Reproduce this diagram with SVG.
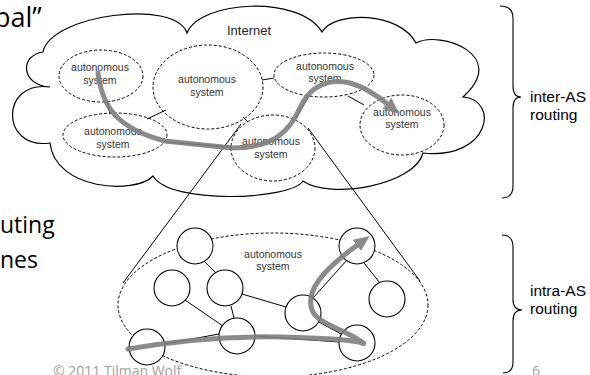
<svg xmlns="http://www.w3.org/2000/svg" width="590" height="375" viewBox="0 0 590 375">
<style>
.as{fill:none;stroke:#000;stroke-width:1;stroke-dasharray:3 2}
.lbl{font-family:"Liberation Sans",Arial,sans-serif;font-size:10.5px;fill:#333;text-anchor:middle}
.rt{fill:#fff;stroke:#000;stroke-width:1.1}
.ln{stroke:#000;stroke-width:1;fill:none}
.route{fill:none;stroke:#7f7f7f;stroke-width:5;stroke-linecap:round;opacity:0.9}
.big{font-family:"Open Sans","Noto Sans",sans-serif;font-size:23px;fill:#000}
.side{font-family:"Liberation Sans",Arial,sans-serif;font-size:15.5px;fill:#000}
.foot{font-family:"Open Sans","Noto Sans",sans-serif;font-size:14px;fill:#a0a0a0}
.brace{fill:none;stroke:#000;stroke-width:1.1}
</style>
<defs>
<marker id="ah" markerUnits="userSpaceOnUse" markerWidth="16" markerHeight="14" refX="4" refY="7" orient="auto">
<path d="M0,0 L16,7 L0,14 Z" fill="#7f7f7f"/>
</marker>
</defs>

<text class="big" x="-6" y="27" style="font-size:27px">bal”</text>
<text class="big" x="0" y="233">uting</text>
<text class="big" x="0" y="268">nes</text>

<g id="internet">
<path d="M43,52 C50,15 175,-2 187,33 C200,0 300,-5 322,32 C335,10 400,12 416,43 C440,30 510,55 463,97 C500,100 490,160 423,153 C415,185 330,200 303,181 C290,200 170,205 153,176 C135,195 55,190 50,143 C0,150 0,80 50,87 C20,85 20,55 43,52 Z" fill="#fff" stroke="#000" stroke-width="1.2"/>
<text x="249" y="35" style="font-family:'Liberation Sans',Arial,sans-serif;font-size:13px;fill:#262626" text-anchor="middle">Internet</text>
</g>

<g id="zoom-lines">
<line class="ln" x1="241" y1="124" x2="123" y2="283"/>
<line class="ln" x1="308" y1="128" x2="420" y2="281"/>
</g>

<g id="as-topleft"><ellipse class="as" cx="101" cy="76" rx="42" ry="26"/><text class="lbl" x="100" y="71">autonomous</text><text class="lbl" x="100" y="84">system</text></g>
<g id="as-center"><ellipse class="as" cx="208" cy="87" rx="55" ry="42"/><text class="lbl" x="207" y="83">autonomous</text><text class="lbl" x="207" y="96">system</text></g>
<g id="as-bottomleft"><ellipse class="as" cx="115" cy="135" rx="52" ry="22"/><text class="lbl" x="113" y="135">autonomous</text><text class="lbl" x="113" y="148">system</text></g>
<g id="as-topright"><ellipse class="as" cx="324" cy="75" rx="50" ry="22"/><text class="lbl" x="325" y="70">autonomous</text><text class="lbl" x="325" y="82">system</text></g>
<g id="as-right"><ellipse class="as" cx="402" cy="125" rx="42" ry="30"/><text class="lbl" x="402" y="116">autonomous</text><text class="lbl" x="402" y="128">system</text></g>
<g id="as-bottomcenter"><ellipse class="as" cx="273" cy="148" rx="42" ry="33"/><text class="lbl" x="271" y="145">autonomous</text><text class="lbl" x="271" y="158">system</text></g>

<g id="as-detail"><ellipse class="as" cx="273" cy="305" rx="155" ry="72"/><text class="lbl" x="273" y="258">autonomous</text><text class="lbl" x="273" y="270">system</text></g>

<g id="connectors">
<line class="ln" x1="107" y1="102" x2="110" y2="114"/>
<line class="ln" x1="147" y1="119" x2="166" y2="110"/>
<line class="ln" x1="262" y1="80" x2="274" y2="78"/>
<line class="ln" x1="243" y1="117" x2="248" y2="122"/>
<line class="ln" x1="165" y1="142" x2="232" y2="147"/>
<line class="ln" x1="296" y1="118" x2="309" y2="96"/>
<line class="ln" x1="348" y1="96" x2="364" y2="105"/>
<line class="ln" x1="204" y1="261" x2="216" y2="273"/>
<line class="ln" x1="185" y1="300" x2="223" y2="326"/>
<line class="ln" x1="231" y1="306" x2="234" y2="318"/>
<line class="ln" x1="242" y1="294" x2="286" y2="307"/>
<line class="ln" x1="165" y1="344" x2="219" y2="334"/>
<line class="ln" x1="255" y1="336" x2="339" y2="342"/>
<line class="ln" x1="313" y1="298" x2="347" y2="260"/>
<line class="ln" x1="319" y1="322" x2="341" y2="334"/>
<line class="ln" x1="364" y1="263" x2="380" y2="283"/>
</g>

<g id="r1"><circle class="rt" cx="195" cy="246" r="18"/></g>
<g id="r2"><circle class="rt" cx="172" cy="288" r="18"/></g>
<g id="r3"><circle class="rt" cx="225" cy="288" r="18"/></g>
<g id="r4"><circle class="rt" cx="147" cy="347" r="18"/></g>
<g id="r5"><circle class="rt" cx="237" cy="336" r="18"/></g>
<g id="r6"><circle class="rt" cx="303" cy="313" r="18"/></g>
<g id="r7"><circle class="rt" cx="357" cy="246" r="18"/></g>
<g id="r8"><circle class="rt" cx="387" cy="299" r="18"/></g>
<g id="r9"><circle class="rt" cx="357" cy="343" r="18"/></g>

<g id="routes">
<path class="route" marker-end="url(#ah)" d="M98,73 C102,105 115,128 165,141 L232,148 C275,148 290,130 300,108 C310,85 330,78 350,83 C365,87 378,96 390,106"/>
<path class="route" marker-end="url(#ah)" d="M128,349 C180,340 230,336 280,337 C320,338 350,339 362,343 C368,346 358,338 342,331 C322,322 308,316 311,298 C313,282 330,265 360,243"/>
</g>

<g id="inter-as">
<path class="brace" d="M500,6 Q513,6 513,18 L513,86 Q513,97 521,97 Q513,97 513,108 L513,186 Q513,198 502,198"/>
<text class="side" x="530" y="102">inter-AS</text>
<text class="side" x="530" y="120">routing</text>
</g>
<g id="intra-as">
<path class="brace" d="M502,235 Q513,235 513,247 L513,299 Q513,310 522,310 Q513,310 513,321 L513,362 Q513,373 503,373"/>
<text class="side" x="530" y="296">intra-AS</text>
<text class="side" x="530" y="314">routing</text>
</g>

<text class="foot" x="53" y="376">© 2011 Tilman Wolf</text>
<text class="foot" x="532" y="376">6</text>
</svg>
